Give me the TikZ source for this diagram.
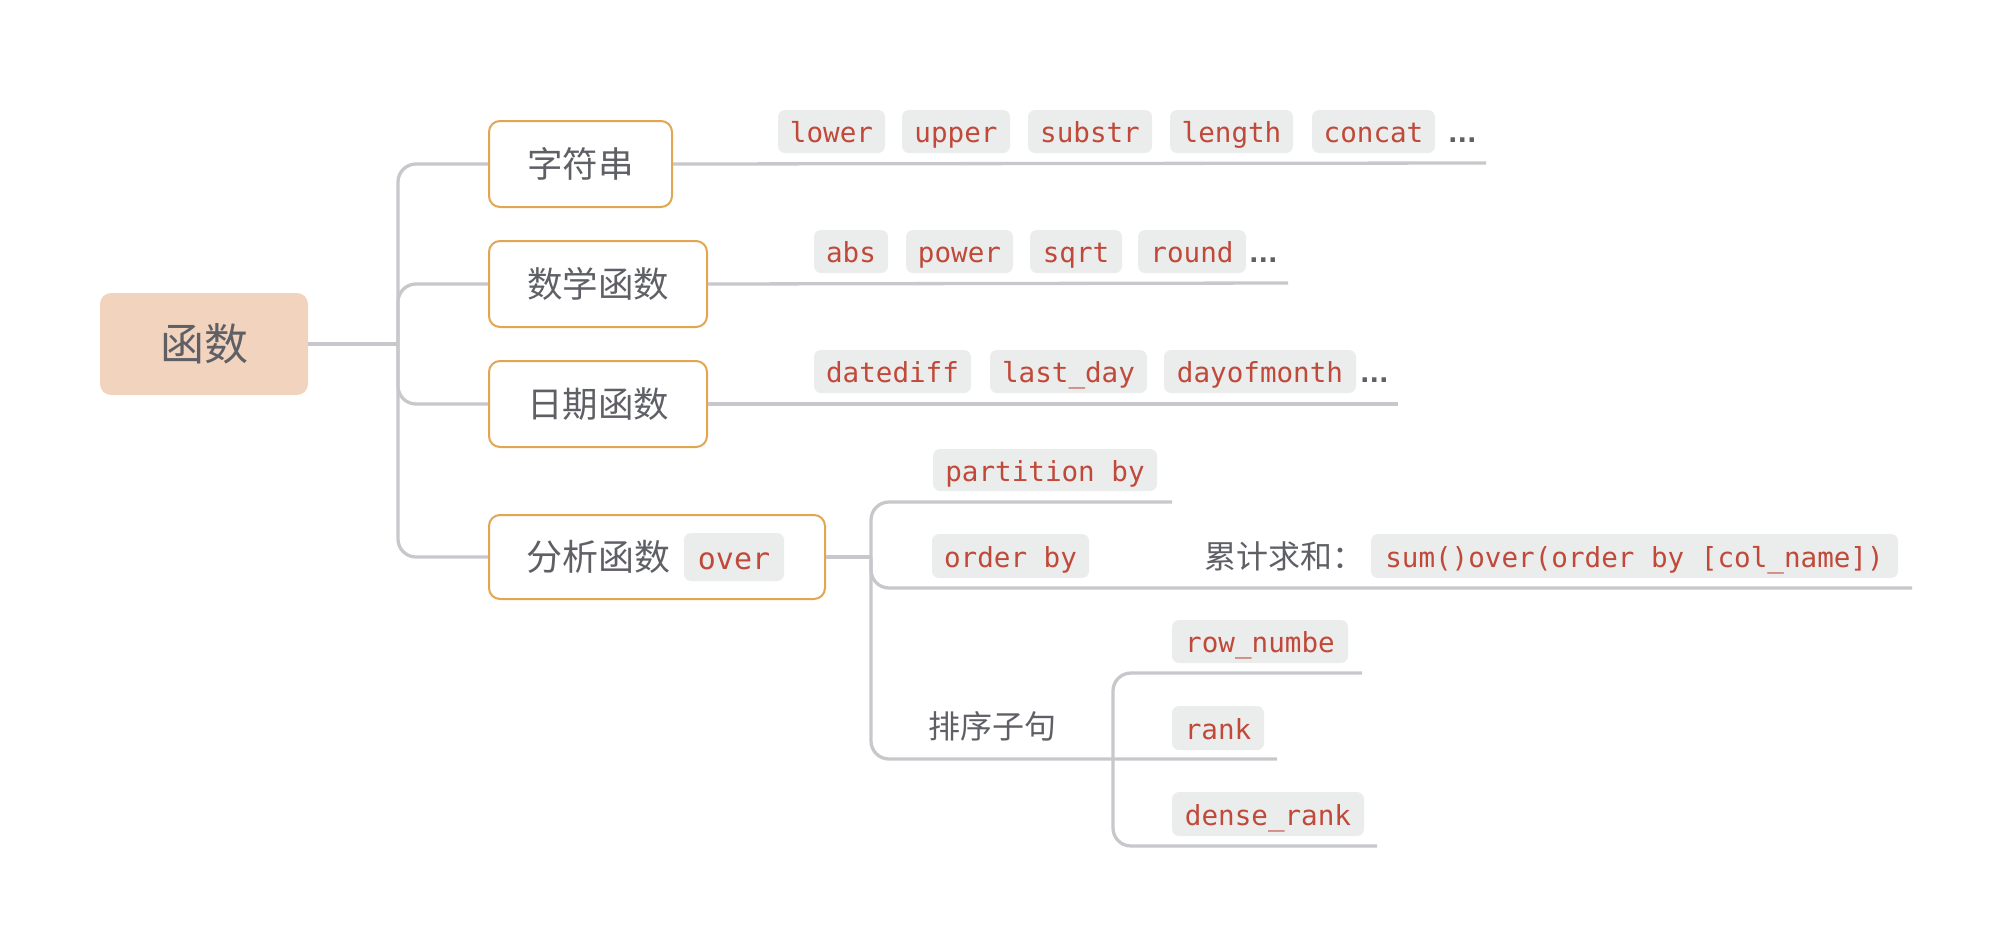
\documentclass[tikz,border=0pt]{standalone}
\usepackage{fontspec}
\newfontfamily\cjk{Noto Sans CJK SC}
\newfontfamily\mono{DejaVu Sans Mono}
\newfontfamily\dv{DejaVu Sans}
\definecolor{linec}{HTML}{C8C8CC}
\definecolor{rootc}{HTML}{F2D4BE}
\definecolor{topicc}{HTML}{E2A552}
\definecolor{txtc}{HTML}{5F6066}
\definecolor{chipc}{HTML}{EBECEC}
\definecolor{codec}{HTML}{C0493A}
\begin{document}
\begin{tikzpicture}[x=1pt,y=-1pt,
  conn/.style={draw=linec, line width=3.3pt, rounded corners=18pt},
  rootbox/.style={fill=rootc, rounded corners=11pt, minimum width=208pt, minimum height=102pt, inner sep=0pt, text=txtc, font=\cjk\fontsize{44}{50}\selectfont},
  topic/.style={draw=topicc, line width=2pt, fill=white, rounded corners=11pt, minimum height=86pt, inner sep=0pt, text=txtc, font=\cjk\fontsize{35.5}{40}\selectfont},
  chip/.style={fill=chipc, rounded corners=7pt, minimum height=43pt, inner sep=0pt, text=codec, font=\mono\fontsize{27.6}{32}\selectfont, text height=24pt, text depth=2pt},
  lbl/.style={text=txtc, font=\cjk\fontsize{32}{38}\selectfont, inner sep=0pt},
  dots/.style={text=txtc, font=\dv\bfseries\fontsize{25}{28}\selectfont, inner sep=0pt, anchor=base west}
]
\useasboundingbox (0,0) rectangle (2012,948);

% root and topics
\node[rootbox] (root) at (204,344) {函数};
\node[topic, minimum width=183pt] (a1) at (580.5,164) {字符串};
\node[topic, minimum width=218pt] (a2) at (598,284) {数学函数};
\node[topic, minimum width=218pt] (a3) at (598,404) {日期函数};
\node[topic, minimum width=336pt, minimum height=84pt] (a4) at (657,557) {};
\node[lbl, font=\cjk\fontsize{36}{40}\selectfont] (a4t) at (598.5,557) {分析函数};
\node[chip, minimum width=100pt, minimum height=48pt, font=\mono\fontsize{30}{34}\selectfont, text height=26pt, text depth=2pt] (over) at (734,557) {over};

% branch 1
\node[chip, minimum width=107pt] (lower) at (831.5,131.5) {lower};
\node[chip, minimum width=108pt] (upper) at (956,131.5) {upper};
\node[chip, minimum width=124pt] (substr) at (1090,131.5) {substr};
\node[chip, minimum width=123pt] (length) at (1231.5,131.5) {length};
\node[chip, minimum width=123pt] (concat) at (1373.5,131.5) {concat};
\node[dots] (d1) at (1448,142) {...};

% branch 2
\node[chip, minimum width=74pt] (abs) at (851,251.5) {abs};
\node[chip, minimum width=107pt] (power) at (959.5,251.5) {power};
\node[chip, minimum width=92pt] (sqrt) at (1076,251.5) {sqrt};
\node[chip, minimum width=108pt] (round) at (1192,251.5) {round};
\node[dots] (d2) at (1249,262) {...};

% branch 3
\node[chip, minimum width=157pt] (datediff) at (892.5,371.5) {datediff};
\node[chip, minimum width=157pt] (lastday) at (1068.5,371.5) {last\_day};
\node[chip, minimum width=192pt] (dayofmonth) at (1260,371.5) {dayofmonth};
\node[dots] (d3) at (1360,382) {...};

% branch 4
\node[chip, minimum width=224pt, minimum height=42pt] (partition) at (1045,470) {partition by};
\node[chip, minimum width=157pt, minimum height=44pt] (orderby) at (1010.5,556) {order by};
\node[lbl] (cum) at (1284,556) {累计求和：};
\node[chip, minimum width=527pt, minimum height=44pt] (sumover) at (1634.5,556) {sum()over(order by [col\_name])};
\node[lbl] (sortc) at (992,726) {排序子句};
\node[chip, minimum width=176pt] (rownum) at (1260,641.5) {row\_numbe};
\node[chip, minimum width=92pt, minimum height=44pt] (rank) at (1218,728) {rank};
\node[chip, minimum width=192pt, minimum height=44pt] (dense) at (1268,814) {dense\_rank};

% junction coordinates and free ends
\coordinate (j0) at (398,344);
\coordinate (e1) at (1486,163);
\coordinate (e2) at (1288,283);
\coordinate (e3) at (1398,404);
\coordinate (j4) at (871,557);
\coordinate (ep) at (1172,502);
\coordinate (eo) at (1912,588);
\coordinate (js) at (1113,759);
\coordinate (es) at (1277,759);
\coordinate (er) at (1362,673);
\coordinate (ed) at (1377,846);

% connectors
\draw[conn] (root.east) -- (j0);
\draw[conn] (j0) |- (a1.west);
\draw[conn] (j0) |- (a2.west);
\draw[conn] (j0) |- (a3.west);
\draw[conn] (j0) |- (a4.west);
\draw[conn] (a1.east) -- (e1);
\draw[conn] (a2.east) -- (e2);
\draw[conn] (a3.east) -- (e3);
\draw[conn] (a4.east) -- (j4);
\draw[conn] (j4) |- (ep);
\draw[conn] (j4) |- (eo);
\draw[conn] (j4) |- (js) -- (es);
\draw[conn] (js) |- (er);
\draw[conn] (js) |- (ed);
\end{tikzpicture}
\end{document}
